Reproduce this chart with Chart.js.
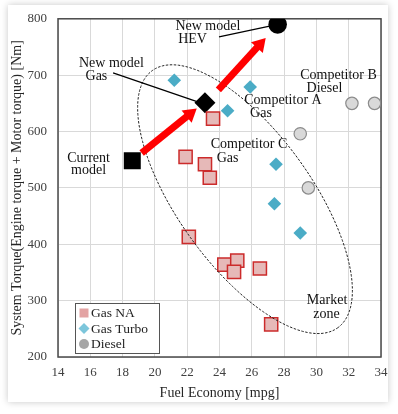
<!DOCTYPE html>
<html><head><meta charset="utf-8">
<script src="https://cdn.jsdelivr.net/npm/chart.js@4.4.1/dist/chart.umd.min.js"></script>
<style>
html,body{margin:0;padding:0;background:#fff;}
#wrap{position:relative;width:398px;height:414px;overflow:hidden;}
#card{position:absolute;left:8px;top:5px;width:380px;height:397px;background:#fff;box-shadow:0 0 7px rgba(0,0,0,0.22);}
canvas{position:absolute;left:0;top:0;}
</style></head><body>
<div id="wrap"><div id="card"></div><canvas id="c" width="398" height="414"></canvas></div>
<script>
// ---- data ----
const xTicks = [14, 16, 18, 20, 22, 24, 26, 28, 30, 32, 34];
const yTicks = [200, 300, 400, 500, 600, 700, 800];
const seriesNames = ['Gas NA', 'Gas Turbo', 'Diesel'];
const gasNA = [
  {x: 23.6, y: 623}, {x: 21.9, y: 555}, {x: 23.1, y: 542}, {x: 23.4, y: 518},
  {x: 22.1, y: 413}, {x: 24.3, y: 364}, {x: 25.1, y: 371}, {x: 24.9, y: 351},
  {x: 26.5, y: 357}, {x: 27.2, y: 258}
];
const gasTurbo = [
  {x: 21.2, y: 691}, {x: 25.9, y: 679}, {x: 24.5, y: 637},
  {x: 27.5, y: 542}, {x: 27.4, y: 472}, {x: 29.0, y: 420}
];
const diesel = [
  {x: 32.2, y: 650}, {x: 33.6, y: 650}, {x: 29.0, y: 596}, {x: 29.5, y: 500}
];
const currentModel = [{x: 18.6, y: 548}];
const newModelGas = [{x: 23.1, y: 651}];
const newModelHEV = [{x: 27.6, y: 790}];
// annotations (data coordinates)
const arrows = [
  {from: {x: 19.18, y: 562}, to: {x: 22.59, y: 641}},
  {from: {x: 23.93, y: 674}, to: {x: 26.86, y: 766}}
];
const leaders = [
  {from: {x: 17.41, y: 704}, to: {x: 22.61, y: 653}},
  {from: {x: 23.97, y: 768}, to: {x: 27.25, y: 788}}
];
const labels = [
  {text: 'New model', x: 23.28, y: 786}, {text: 'HEV', x: 22.33, y: 763},
  {text: 'New model', x: 17.31, y: 721}, {text: 'Gas', x: 16.38, y: 698.5},
  {text: 'Current', x: 15.89, y: 553}, {text: 'model', x: 15.89, y: 530.6},
  {text: 'Competitor A', x: 27.93, y: 655}, {text: 'Gas', x: 26.57, y: 632},
  {text: 'Competitor B', x: 31.37, y: 700}, {text: 'Diesel', x: 30.50, y: 677.5},
  {text: 'Competitor C', x: 25.83, y: 578}, {text: 'Gas', x: 24.50, y: 553},
  {text: 'Market', x: 30.66, y: 300}, {text: 'zone', x: 30.63, y: 275}
];
const marketZone = {center: {x: 25.58, y: 480}, majorEnd: {x: 31.30, y: 251.4}, minorEnd: {x: 28.97, y: 547.7}};

const SERIF = '"Liberation Serif", "Times New Roman", serif';

const annot = {
  id: 'annot',
  beforeDatasetsDraw(chart) {
    const {ctx, chartArea: a} = chart;
    ctx.save();
    ctx.strokeStyle = '#4a4a4a';
    ctx.lineWidth = 1.5;
    ctx.strokeRect(a.left, a.top, a.right - a.left, a.bottom - a.top);
    ctx.restore();
  },
  afterDatasetsDraw(chart) {
    const {ctx, chartArea: a} = chart;
    const xs = chart.scales.x, ys = chart.scales.y;
    const P = p => ({x: xs.getPixelForValue(p.x), y: ys.getPixelForValue(p.y)});
    ctx.save();
    // market zone ellipse
    const c = P(marketZone.center), mj = P(marketZone.majorEnd), mn = P(marketZone.minorEnd);
    const u = {x: mj.x - c.x, y: mj.y - c.y}, v = {x: mn.x - c.x, y: mn.y - c.y};
    ctx.beginPath();
    for (let i = 0; i <= 240; i++) {
      const t = i / 240 * Math.PI * 2;
      const px = c.x + Math.cos(t) * u.x + Math.sin(t) * v.x;
      const py = c.y + Math.cos(t) * u.y + Math.sin(t) * v.y;
      if (i === 0) ctx.moveTo(px, py); else ctx.lineTo(px, py);
    }
    ctx.setLineDash([2.5, 1.5]);
    ctx.strokeStyle = '#222';
    ctx.lineWidth = 1;
    ctx.stroke();
    ctx.setLineDash([]);
    // leader lines
    ctx.strokeStyle = '#000';
    ctx.lineWidth = 1.2;
    leaders.forEach(l => {
      const p0 = P(l.from), p1 = P(l.to);
      ctx.beginPath(); ctx.moveTo(p0.x, p0.y); ctx.lineTo(p1.x, p1.y); ctx.stroke();
    });
    // arrows
    arrows.forEach(ar => {
      const p0 = P(ar.from), p1 = P(ar.to);
      const dx = p1.x - p0.x, dy = p1.y - p0.y, L = Math.hypot(dx, dy);
      const ux = dx / L, uy = dy / L, nx = -uy, ny = ux;
      const hl = 13, hw = 8;
      const bx = p1.x - ux * hl, by = p1.y - uy * hl;
      ctx.strokeStyle = '#ff0000';
      ctx.fillStyle = '#ff0000';
      ctx.lineWidth = 7;
      ctx.beginPath(); ctx.moveTo(p0.x, p0.y); ctx.lineTo(bx + ux, by + uy); ctx.stroke();
      ctx.beginPath();
      ctx.moveTo(p1.x, p1.y);
      ctx.lineTo(bx + nx * hw, by + ny * hw);
      ctx.lineTo(bx - nx * hw, by - ny * hw);
      ctx.closePath(); ctx.fill();
    });
    // labels
    ctx.font = '14px ' + SERIF;
    ctx.fillStyle = '#111';
    ctx.textAlign = 'center';
    ctx.textBaseline = 'middle';
    labels.forEach(l => { const p = P(l); ctx.fillText(l.text, p.x, p.y); });
    // legend
    const lx = a.left + 17, ly = a.bottom - 54, lw = 84, lh = 50;
    ctx.fillStyle = '#fff';
    ctx.fillRect(lx, ly, lw, lh);
    ctx.strokeStyle = '#555';
    ctx.lineWidth = 1;
    ctx.strokeRect(lx + 0.5, ly + 0.5, lw, lh);
    const icons = ['#e3a3a3', '#7cc6db', '#a6a6a6'];
    ctx.font = '13.5px ' + SERIF;
    ctx.textAlign = 'left';
    ctx.fillStyle = '#222';
    seriesNames.forEach((name, i) => {
      const cy = ly + 10 + i * 15.5, cx = lx + 9;
      ctx.fillStyle = icons[i];
      ctx.beginPath();
      if (i === 0) ctx.rect(cx - 4.5, cy - 4.5, 9, 9);
      else if (i === 1) { ctx.moveTo(cx - 5.5, cy); ctx.lineTo(cx, cy - 5.5); ctx.lineTo(cx + 5.5, cy); ctx.lineTo(cx, cy + 5.5); ctx.closePath(); }
      else ctx.arc(cx, cy, 5, 0, Math.PI * 2);
      ctx.fill();
      ctx.fillStyle = '#222';
      ctx.fillText(name, lx + 16, cy + 0.5);
    });
    ctx.restore();
  }
};

new Chart(document.getElementById('c'), {
  type: 'scatter',
  data: {
    datasets: [
      {label: seriesNames[0], data: gasNA, pointStyle: 'rect', pointRadius: 9.3, backgroundColor: '#e6b9b8', borderColor: '#cc2b2b', borderWidth: 1.5},
      {label: seriesNames[1], data: gasTurbo, pointStyle: 'rectRot', pointRadius: 6.8, backgroundColor: '#4bacc6', borderColor: '#4bacc6', borderWidth: 0},
      {label: seriesNames[2], data: diesel, pointStyle: 'circle', pointRadius: 6.2, backgroundColor: '#d9d9d9', borderColor: '#8c8c8c', borderWidth: 1.2},
      {label: 'Current model', data: currentModel, pointStyle: 'rect', pointRadius: 12, backgroundColor: '#000', borderColor: '#000', borderWidth: 0},
      {label: 'New model Gas', data: newModelGas, pointStyle: 'rectRot', pointRadius: 10.5, backgroundColor: '#000', borderColor: '#000', borderWidth: 0},
      {label: 'New model HEV', data: newModelHEV, pointStyle: 'circle', pointRadius: 9.3, backgroundColor: '#000', borderColor: '#000', borderWidth: 0}
    ]
  },
  options: {
    responsive: false,
    animation: false,
    devicePixelRatio: 1,
    layout: {padding: {left: 0, right: 17, top: 14, bottom: 0}},
    plugins: {legend: {display: false}, tooltip: {enabled: false}},
    scales: {
      x: {
        type: 'linear', min: 14, max: 34,
        afterBuildTicks: s => { s.ticks = xTicks.map(v => ({value: v})); },
        afterFit: s => { s.height = 57; },
        grid: {color: '#d9d9d9', lineWidth: 1, drawTicks: false},
        border: {display: false},
        ticks: {padding: 8, color: '#404040', font: {family: SERIF, size: 13}},
        title: {display: true, text: 'Fuel Economy [mpg]', color: '#262626', font: {family: SERIF, size: 14}, padding: {top: 0, bottom: 12.6}}
      },
      y: {
        type: 'linear', min: 200, max: 800,
        afterBuildTicks: s => { s.ticks = yTicks.map(v => ({value: v})); },
        afterFit: s => { s.width = 58; },
        grid: {color: '#d9d9d9', lineWidth: 1, drawTicks: false},
        border: {display: false},
        ticks: {padding: 11, color: '#404040', font: {family: SERIF, size: 13}},
        title: {display: true, text: 'System Torque(Engine torque + Motor torque) [Nm]', color: '#262626', font: {family: SERIF, size: 14}, padding: {top: 8.6, bottom: 0}}
      }
    }
  },
  plugins: [annot]
});
</script>
</body></html>
